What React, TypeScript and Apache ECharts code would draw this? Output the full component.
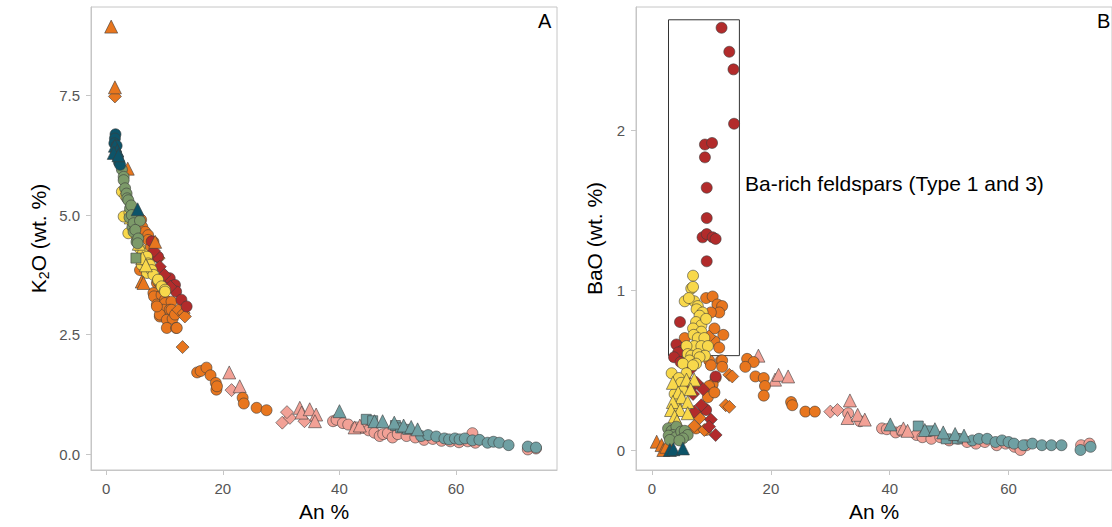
import React, { useEffect, useRef } from "react";
import * as echarts from "echarts";

// ---------- Colours ----------
const C_ORANGE = "#E8761E";
const C_RED = "#B22B2B";
const C_YELLOW = "#F8D84B";
const C_GREEN = "#7C9A69";
const C_DTEAL = "#0D5469";
const C_PINK = "#F2A196";
const C_TEAL = "#6FA0A3";

// ---------- Tick labels ----------
const xTicks = [0, 20, 40, 60];
const yTicksA = [0, 2.5, 5, 7.5];
const yTicksB = [0, 1, 2];

// ---------- Panel A: [An %, K2O wt.%] ----------
const pinkCircleA = [[38.9,0.69],[39.5,0.72],[40.6,0.65],[41.5,0.62],[42.9,0.56],[44.0,0.55],[45.0,0.5],[46.0,0.45],[46.9,0.38],[47.5,0.42],[48.3,0.44],[49.1,0.35],[50.0,0.42],[51.5,0.38],[53.0,0.35],[54.5,0.3],[56.0,0.32],[57.5,0.28],[59.0,0.27],[60.5,0.25],[62.0,0.27],[62.8,0.44],[63.3,0.24],[72.3,0.10],[73.7,0.12]];
const pinkTriA = [[21.1,1.71],[22.9,1.42],[33.2,0.97],[33.5,0.87],[34.9,0.94],[36.0,0.83],[35.8,0.69],[42.6,0.56],[43.5,0.6]];
const pinkDiaA = [[21.5,1.34],[30.2,0.66],[31.5,0.76],[31.0,0.88],[34.0,0.69]];
const orangeCircleA = [[6.0,4.9],[6.2,4.75],[6.7,4.65],[7.2,4.58],[7.2,4.48],[8.1,4.44],[7.6,4.31],[5.8,3.85],[8.7,3.58],[8.1,3.37],[9.2,3.3],[8.2,3.3],[9.5,3.33],[8.7,3.13],[10.1,3.23],[10.1,3.16],[11.2,3.19],[9.8,3.02],[10.9,3.02],[11.2,3.02],[9.2,2.88],[9.2,2.92],[10.4,2.81],[11.4,2.83],[11.8,2.92],[10.4,2.64],[12.0,2.64],[12.1,2.64],[8.7,3.09],[9.0,3.6],[9.8,3.45],[15.6,1.71],[16.2,1.74],[17.2,1.81],[17.9,1.65],[18.8,1.49],[18.9,1.35],[19.0,1.42],[23.4,1.18],[23.6,1.06],[25.8,0.97],[27.5,0.92]];
const orangeTriA = [[0.86,8.94],[1.5,7.67],[3.7,5.97],[8.4,4.44],[6.1,3.61],[6.4,3.58]];
const orangeDiaA = [[1.5,7.48],[9.0,4.1],[10.3,3.7],[12.4,3.02],[13.3,2.95],[13.5,2.88],[13.1,2.24]];
const redCircleA = [[7.8,4.45],[8.7,4.13],[8.9,4.13],[10.6,3.61],[10.9,3.68],[11.5,3.52],[11.8,3.54],[12.0,3.4],[12.9,3.23],[13.8,3.09]];
const redDiaA = [[8.2,4.25],[9.2,3.92],[10.0,3.75],[11.0,3.5]];
const yellowCircleA = [[2.7,5.49],[3.0,4.97],[3.3,5.4],[3.8,4.62],[4.0,5.05],[4.6,4.8],[5.3,4.5],[5.8,4.3],[6.1,3.96],[6.3,4.2],[6.6,4.05],[7.0,4.13],[7.2,3.99],[7.0,3.79],[7.5,3.96],[7.8,3.85],[8.1,3.75],[8.9,3.63],[8.9,3.65],[9.5,3.51],[10.1,3.44],[10.1,3.4]];
const yellowTriA = [[4.2,4.95],[5.6,4.4],[6.2,4.1],[6.8,3.95]];
const greenCircleA = [[2.7,5.95],[3.0,5.8],[3.0,5.73],[3.25,5.56],[3.5,5.45],[3.6,5.35],[3.8,5.31],[4.1,5.14],[4.3,5.2],[4.0,4.95],[4.4,5.0],[4.5,4.75],[4.7,4.83],[4.7,4.65],[5.8,4.88],[5.0,4.69],[5.2,4.44],[5.5,4.51],[5.4,4.41]];
const greenSquareA = [[5.1,4.1]];
const darkTealCircleA = [[1.6,6.69],[1.5,6.6],[1.4,6.5],[1.8,6.45],[1.7,6.3],[2.0,6.2],[2.2,6.1],[2.4,6.05]];
const darkTealTriA = [[1.5,6.45],[1.9,6.35],[1.3,6.3],[2.1,6.25],[5.4,5.12]];
const tealCircleA = [[54.0,0.38],[55.2,0.4],[56.6,0.37],[58.0,0.33],[58.8,0.31],[59.8,0.33],[60.6,0.31],[61.5,0.33],[62.8,0.29],[64.0,0.3],[65.4,0.24],[66.4,0.26],[67.4,0.24],[69.0,0.19],[72.3,0.16],[73.7,0.14]];
const tealTriA = [[40.0,0.9],[46.0,0.69],[47.4,0.69],[49.4,0.66],[51.0,0.6],[52.3,0.57],[53.4,0.52]];
const tealSquareA = [[44.6,0.73],[45.7,0.7],[49.6,0.6],[50.5,0.55],[51.7,0.52]];

// ---------- Panel B: [An %, BaO wt.%] ----------
const pinkCircleB = [[33.0,0.23],[35.0,0.18],[38.7,0.135],[39.5,0.13],[41.0,0.11],[42.0,0.12],[44.5,0.094],[45.5,0.08],[47.0,0.07],[48.5,0.08],[50.0,0.06],[51.5,0.07],[53.0,0.05],[54.5,0.04],[56.0,0.05],[58.0,0.03],[59.5,0.04],[61.0,0.02],[62.0,0.0],[63.0,0.03],[72.2,0.03],[73.6,0.04]];
const pinkTriB = [[17.9,0.59],[20.7,0.44],[21.3,0.47],[22.9,0.46],[32.9,0.2],[33.3,0.31],[34.6,0.22],[35.8,0.19],[42.3,0.135],[43.0,0.12]];
const pinkDiaB = [[30.0,0.24],[31.2,0.25]];
const orangeCircleB = [[9.1,0.95],[10.2,0.96],[11.0,0.91],[11.8,0.9],[11.3,0.86],[9.9,0.86],[10.5,0.76],[12.0,0.72],[10.5,0.68],[11.3,0.64],[5.5,0.7],[9.6,0.56],[11.6,0.56],[11.8,0.56],[9.9,0.53],[11.8,0.52],[16.0,0.57],[17.1,0.55],[15.7,0.52],[17.4,0.46],[18.8,0.45],[19.0,0.4],[18.8,0.34],[10.7,0.45],[10.2,0.41],[9.6,0.4],[9.4,0.33],[10.5,0.36],[8.8,0.26],[7.4,0.135],[9.1,0.125],[23.4,0.3],[23.6,0.28],[25.8,0.24],[27.4,0.24]];
const orangeTriB = [[0.78,0.052],[1.6,0.031],[1.9,0.0],[2.4,0.02],[3.3,0.01]];
const orangeDiaB = [[9.6,0.71],[13.0,0.47],[13.5,0.46],[12.4,0.28],[13.0,0.27],[8.0,0.2],[7.1,0.15],[8.8,0.125]];
const redCircleB = [[11.7,2.64],[13.0,2.49],[13.7,2.38],[13.8,2.04],[8.9,1.91],[10.1,1.92],[8.9,1.83],[9.2,1.64],[9.2,1.45],[8.5,1.33],[9.2,1.35],[10.2,1.33],[10.7,1.32],[9.2,1.18],[4.7,0.8],[4.1,0.66],[5.0,0.62],[4.4,0.61],[3.7,0.58],[4.8,0.55],[10.7,0.46],[6.6,0.4],[9.1,0.25]];
const redDiaB = [[5.5,0.45],[6.4,0.5],[7.5,0.42],[8.6,0.38],[6.9,0.35],[8.3,0.28],[7.1,0.24],[9.9,0.19],[9.6,0.146],[10.7,0.094]];
const yellowCircleB = [[6.9,1.09],[6.6,1.01],[6.9,1.02],[7.1,0.93],[5.5,0.93],[6.2,0.95],[7.7,0.9],[7.5,0.88],[8.5,0.86],[8.0,0.84],[7.4,0.8],[8.3,0.78],[9.1,0.82],[6.9,0.76],[8.3,0.74],[7.0,0.72],[7.7,0.7],[8.8,0.7],[7.1,0.65],[5.8,0.65],[8.3,0.65],[9.4,0.65],[6.0,0.6],[6.6,0.59],[7.7,0.6],[8.9,0.59],[8.0,0.58],[6.3,0.56],[5.2,0.54],[7.4,0.54],[6.9,0.53],[5.8,0.48],[3.3,0.48],[4.5,0.45],[4.9,0.42],[5.2,0.37],[3.8,0.35],[4.4,0.32],[4.1,0.27]];
const yellowTriB = [[3.5,0.42],[5.8,0.44],[7.1,0.44],[6.5,0.38],[4.4,0.36],[5.0,0.33],[3.5,0.3],[6.0,0.3],[4.7,0.25],[3.2,0.25],[6.0,0.23],[3.8,0.21],[4.2,0.18]];
const greenCircleB = [[2.7,0.135],[3.3,0.12],[4.1,0.146],[3.5,0.094],[2.8,0.09],[4.0,0.08],[4.9,0.115],[5.5,0.12],[6.0,0.094],[5.2,0.073],[3.0,0.063],[4.6,0.06]];
const greenSquareB: number[][] = [];
const darkTealCircleB: number[][] = [];
const darkTealTriB = [[3.0,0.0],[3.6,0.005],[5.2,0.01]];
const tealCircleB = [[53.9,0.06],[55.0,0.07],[56.4,0.07],[57.8,0.05],[58.9,0.06],[60.0,0.05],[60.9,0.04],[62.5,0.03],[64.0,0.04],[65.6,0.03],[67.2,0.03],[68.9,0.03],[72.1,0.0],[73.8,0.02]];
const tealTriB = [[40.1,0.16],[45.9,0.125],[47.6,0.13],[49.0,0.11],[51.0,0.1],[52.5,0.09]];
const tealSquareB = [[44.8,0.15],[46.5,0.12],[49.5,0.07],[51.4,0.07]];

// Ba-rich box (An %, BaO)
const boxCorners = [[2.77, 2.69], [14.7, 0.59]];
const boxLabel = "Ba-rich feldspars (Type 1 and 3)";

const groups = [
  { color: C_PINK, symbol: "circle", size: 11, a: pinkCircleA, b: pinkCircleB },
  { color: C_PINK, symbol: "diamond", size: 13, a: pinkDiaA, b: pinkDiaB },
  { color: C_PINK, symbol: "triangle", size: 13, a: pinkTriA, b: pinkTriB },
  { color: C_ORANGE, symbol: "circle", size: 11, a: orangeCircleA, b: orangeCircleB },
  { color: C_ORANGE, symbol: "diamond", size: 13, a: orangeDiaA, b: orangeDiaB },
  { color: C_RED, symbol: "circle", size: 11, a: redCircleA, b: redCircleB },
  { color: C_RED, symbol: "diamond", size: 13, a: redDiaA, b: redDiaB },
  { color: C_YELLOW, symbol: "circle", size: 11, a: yellowCircleA, b: yellowCircleB },
  { color: C_YELLOW, symbol: "triangle", size: 13, a: yellowTriA, b: yellowTriB },
  { color: C_ORANGE, symbol: "triangle", size: 13, a: orangeTriA, b: orangeTriB },
  { color: C_GREEN, symbol: "circle", size: 11, a: greenCircleA, b: greenCircleB },
  { color: C_GREEN, symbol: "rect", size: 10, a: greenSquareA, b: greenSquareB },
  { color: C_DTEAL, symbol: "circle", size: 11, a: darkTealCircleA, b: darkTealCircleB },
  { color: C_DTEAL, symbol: "triangle", size: 13, a: darkTealTriA, b: darkTealTriB },
  { color: C_TEAL, symbol: "circle", size: 11, a: tealCircleA, b: tealCircleB },
  { color: C_TEAL, symbol: "rect", size: 10, a: tealSquareA, b: tealSquareB },
  { color: C_TEAL, symbol: "triangle", size: 13, a: tealTriA, b: tealTriB },
];

const FONT = "Liberation Sans, Arial, Helvetica, sans-serif";
const GRID_COLOR = "#C6C6C6";

function xAxis(gridIndex: number, min: number, max: number) {
  return {
    type: "value",
    gridIndex,
    min,
    max,
    name: "An %",
    nameLocation: "middle",
    nameGap: 31,
    nameTextStyle: { fontFamily: FONT, fontSize: 21, color: "#000" },
    axisLine: { show: true, onZero: false, lineStyle: { color: GRID_COLOR, width: 1 } },
    axisTick: { show: true, length: 5, customValues: xTicks, lineStyle: { color: GRID_COLOR } },
    axisLabel: { customValues: xTicks, margin: 11, fontFamily: FONT, fontSize: 15, color: "#555" },
    splitLine: { show: false },
  };
}

function yAxis(gridIndex: number, min: number, max: number, ticks: number[], decimals: number, label: string, gap: number) {
  return {
    type: "value",
    gridIndex,
    min,
    max,
    name: label,
    nameLocation: "middle",
    nameGap: gap,
    nameTextStyle: {
      fontFamily: FONT,
      color: "#000",
      rich: {
        a: { fontFamily: FONT, fontSize: 21, lineHeight: 26, color: "#000" },
        b: { fontFamily: FONT, fontSize: 14, lineHeight: 14, color: "#000", verticalAlign: "bottom" },
      },
    },
    axisLine: { show: true, onZero: false, lineStyle: { color: GRID_COLOR, width: 1 } },
    axisTick: { show: true, length: 5, customValues: ticks, lineStyle: { color: GRID_COLOR } },
    axisLabel: {
      customValues: ticks,
      margin: 11,
      fontFamily: FONT,
      fontSize: 15,
      color: "#555",
      formatter: (v: number) => v.toFixed(decimals),
    },
    splitLine: { show: false },
  };
}

export default function App() {
  const ref = useRef<HTMLDivElement>(null);

  useEffect(() => {
    if (!ref.current) return;
    const chart = echarts.init(ref.current, null, { renderer: "svg" });

    const series: any[] = [];
    groups.forEach((g) => {
      const base = {
        type: "scatter",
        symbol: g.symbol,
        symbolSize: g.size,
        itemStyle: { color: g.color, borderColor: "#3d3d3d", borderWidth: 0.6, opacity: 1 },
        emphasis: { disabled: true },
        silent: true,
      };
      series.push({ ...base, xAxisIndex: 0, yAxisIndex: 0, data: g.a });
      series.push({ ...base, xAxisIndex: 1, yAxisIndex: 1, data: g.b });
    });

    // Box annotation in panel B
    series.push({
      type: "scatter",
      xAxisIndex: 1,
      yAxisIndex: 1,
      data: [],
      silent: true,
      markArea: {
        silent: true,
        itemStyle: { color: "rgba(0,0,0,0)", borderColor: "#333", borderWidth: 1 },
        data: [[{ coord: boxCorners[0] }, { coord: boxCorners[1] }]],
      },
      z: 1,
    });

    chart.setOption({
      animation: false,
      backgroundColor: "#fff",
      grid: [
        { left: 91, top: 7, width: 466, height: 463, show: true, borderColor: GRID_COLOR, borderWidth: 1, backgroundColor: "#fff" },
        { left: 636, top: 7, width: 482, height: 463, show: true, borderColor: GRID_COLOR, borderWidth: 1, backgroundColor: "#fff" },
      ],
      xAxis: [xAxis(0, -2.6, 77.3), xAxis(1, -2.7, 77.4)],
      yAxis: [
        yAxis(0, -0.33, 9.35, yTicksA, 1, "{a|K}{b|2}{a|O (wt. %)}", 40),
        yAxis(1, -0.125, 2.77, yTicksB, 0, "{a|BaO (wt. %)}", 29),
      ],
      graphic: [
        { type: "text", left: 538, top: 11, style: { text: "A", fontFamily: FONT, fontSize: 20, fill: "#000" } },
        { type: "text", left: 1097, top: 11, style: { text: "B", fontFamily: FONT, fontSize: 20, fill: "#000" } },
        { type: "text", left: 745, top: 173, style: { text: boxLabel, fontFamily: FONT, fontSize: 21, fill: "#000" } },
      ],
      series,
    });

    return () => chart.dispose();
  }, []);

  return (
    <div style={{ position: "absolute", left: 0, top: 0, width: 1112, height: 527, overflow: "hidden" }}>
      <div ref={ref} style={{ width: 1112, height: 527 }} />
    </div>
  );
}
